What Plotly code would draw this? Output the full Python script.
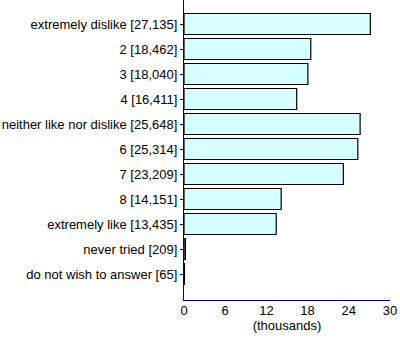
import plotly.graph_objects as go

# Survey responses (counts) per rating category
categories = [
    "extremely dislike", "2", "3", "4", "neither like nor dislike",
    "6", "7", "8", "extremely like", "never tried", "do not wish to answer",
]
counts = [27135, 18462, 18040, 16411, 25648, 25314, 23209, 14151, 13435, 209, 65]
x_ticks = [0, 6, 12, 18, 24, 30]

labels = [f"{c} [{n:,}]" for c, n in zip(categories, counts)]
thousands = [n / 1000 for n in counts]
positions = list(range(len(categories)))

AXIS = "#000080"

fig = go.Figure(
    go.Bar(
        x=thousands,
        y=positions,
        orientation="h",
        width=0.84,
        marker=dict(color="#d6ffff", line=dict(color="#000000", width=1.2)),
        hoverinfo="skip",
    )
)

fig.update_layout(
    width=400,
    height=342,
    margin=dict(l=184, r=10, t=0, b=42),
    paper_bgcolor="white",
    plot_bgcolor="white",
    showlegend=False,
    font=dict(family="Liberation Sans, Arial, sans-serif", size=13, color="#000000"),
)

fig.update_xaxes(
    range=[0, 30],
    tickvals=x_ticks,
    ticktext=[str(v) for v in x_ticks],
    showgrid=False,
    zeroline=False,
    showline=True,
    linecolor=AXIS,
    linewidth=1.2,
    ticks="",
    tickfont=dict(size=13),
    ticklabelstandoff=-2,
    title=dict(text="(thousands)", font=dict(size=13), standoff=2),
    automargin=False,
)

fig.update_yaxes(
    range=[11.04, -0.96],
    tickvals=positions,
    ticktext=labels,
    showgrid=False,
    zeroline=False,
    showline=True,
    linecolor=AXIS,
    linewidth=1.2,
    ticks="outside",
    ticklen=3,
    tickcolor=AXIS,
    tickfont=dict(size=13),
    automargin=False,
)

fig.write_html("out.html")
